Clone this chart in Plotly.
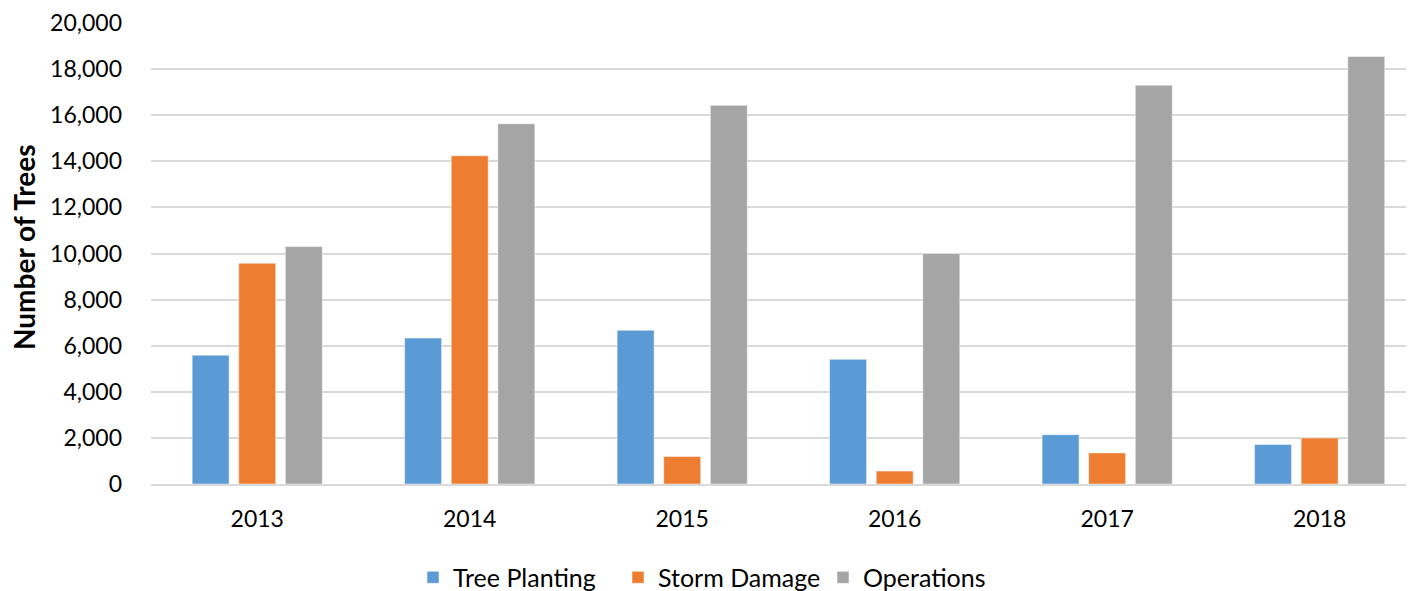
import plotly.graph_objects as go

years = ["2013", "2014", "2015", "2016", "2017", "2018"]
tree_planting = [5590, 6330, 6670, 5410, 2140, 1710]
storm_damage = [9580, 14240, 1190, 560, 1350, 2000]
operations = [10300, 15630, 16430, 10000, 17300, 18550]

series = [
    ("Tree Planting", tree_planting, "#5B9BD5"),
    ("Storm Damage", storm_damage, "#ED7D31"),
    ("Operations", operations, "#A5A5A5"),
]

FONT = "Lato, 'Open Sans', sans-serif"
# page body has an 8px margin, so the figure is laid out in shifted coordinates
W, H = 1406, 583
L, T, B, R = 143, 15, 107, 0
PW = W - L - R
PH = H - T - B

fig = go.Figure()
for name, vals, color in series:
    fig.add_trace(go.Bar(
        x=years, y=vals, name=name,
        marker=dict(color=color, line=dict(color="rgba(255,255,255,0.5)", width=1)),
    ))

fig.update_layout(
    width=W, height=H,
    margin=dict(l=L, r=R, t=T, b=B, pad=0, autoexpand=False),
    paper_bgcolor="white", plot_bgcolor="white",
    barmode="group", bargap=0.342, bargroupgap=0.206,
    font=dict(family=FONT, size=23, color="#000000"),
    showlegend=True,
    legend=dict(orientation="h", x=(405 - L) / PW, xanchor="left", y=-0.203, yanchor="middle",
                font=dict(size=25, color="#000000"), entrywidth=160,
                traceorder="normal"),
)
fig.update_yaxes(
    range=[0, 20000], dtick=2000, tickformat=",",
    showgrid=True, gridcolor="#D9D9D9", gridwidth=2,
    zeroline=False, showline=False, ticks="",
    ticklabelstandoff=28, automargin=False,
    tickfont=dict(size=23, color="#000000"),
)
fig.add_annotation(
    text="<b>Number of Trees</b>", textangle=-90,
    xref="paper", yref="paper",
    x=(16 - L) / PW, y=(476 - 240) / PH,
    xanchor="center", yanchor="middle", showarrow=False,
    font=dict(size=28, color="#000000", family=FONT),
)
fig.update_xaxes(
    range=[-0.5, 5.444],
    showline=True, linecolor="#D9D9D9", linewidth=2,
    showgrid=False, ticks="", ticklabelstandoff=13, automargin=False,
    tickfont=dict(size=23, color="#000000"),
)

fig.write_html("out.html")
